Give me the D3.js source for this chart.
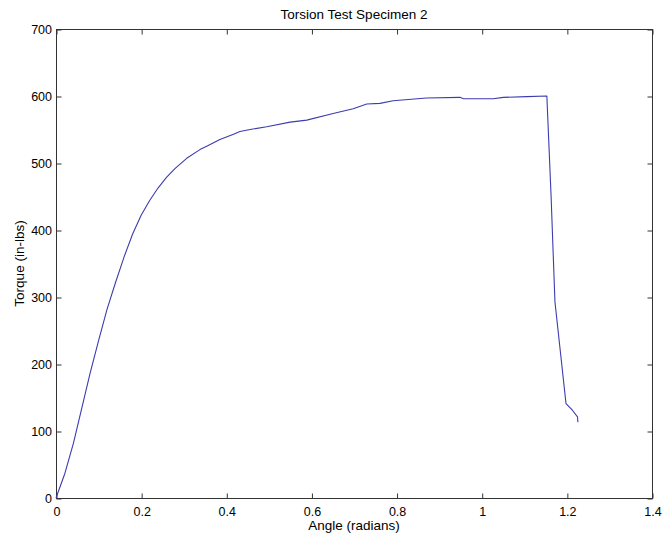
<!DOCTYPE html>
<html>
<head>
<meta charset="utf-8">
<script src="https://cdn.jsdelivr.net/npm/d3@7/dist/d3.min.js"></script>
<style>
  html, body { margin: 0; padding: 0; background: #fff; }
  svg { display: block; }
  text { font-family: "Liberation Sans", Arial, Helvetica, sans-serif; fill: #000; }
</style>
</head>
<body>
<svg id="chart" width="662" height="540"></svg>
<script>
// Data
const angle = [0, 0.021, 0.041, 0.08, 0.10, 0.12, 0.14, 0.16, 0.18, 0.20, 0.22, 0.24, 0.26, 0.28, 0.307, 0.338, 0.354, 0.385, 0.417, 0.432, 0.456, 0.495, 0.550, 0.589, 0.651, 0.698, 0.730, 0.761, 0.792, 0.870, 0.949, 0.957, 1.027, 1.051, 1.106, 1.153, 1.163, 1.172, 1.198, 1.213, 1.225, 1.226];
const torque = [0, 37, 82, 186, 235, 282, 322, 360, 394, 422, 444, 463, 479, 492, 507, 520, 525, 535, 543, 547, 550, 554, 561, 564, 574, 581, 588, 589, 593, 597, 598, 596, 596, 598, 599, 600, 450, 293, 141, 131, 121, 113];
const xTicks = [0, 0.2, 0.4, 0.6, 0.8, 1, 1.2, 1.4];
const yTicks = [0, 100, 200, 300, 400, 500, 600, 700];
const title = "Torsion Test Specimen 2";
const xLabel = "Angle (radians)";
const yLabel = "Torque (in-lbs)";

const svg = d3.select("#chart");
const L = 56, R = 652, T = 29, B = 498;
const x = d3.scaleLinear().domain([0, 1.4]).range([L, R]);
const y = d3.scaleLinear().domain([0, 700]).range([B, T]);
const axisColor = "#333";
const tickFs = "12.5px";
const labelFs = "13.5px";

// frame
svg.append("rect").attr("x", L + 0.5).attr("y", T + 0.5)
  .attr("width", R - L).attr("height", B - T)
  .attr("fill", "none").attr("stroke", axisColor).attr("stroke-width", 1);

const fmt = d => String(d);

// bottom axis
const gx = svg.append("g").attr("transform", `translate(0.5,${B + 0.5})`)
  .call(d3.axisBottom(x).tickValues(xTicks).tickFormat(fmt).tickSizeInner(-5).tickSizeOuter(0).tickPadding(8.5));
// top axis ticks
const gxt = svg.append("g").attr("transform", `translate(0.5,${T + 0.5})`)
  .call(d3.axisTop(x).tickValues(xTicks).tickFormat("").tickSizeInner(-5).tickSizeOuter(0));
// left axis
const gy = svg.append("g").attr("transform", `translate(${L + 0.5},0.5)`)
  .call(d3.axisLeft(y).tickValues(yTicks).tickSizeInner(-5).tickSizeOuter(0).tickPadding(4.5));
// right axis ticks
const gyr = svg.append("g").attr("transform", `translate(${R + 0.5},0.5)`)
  .call(d3.axisRight(y).tickValues(yTicks).tickFormat("").tickSizeInner(-5).tickSizeOuter(0));

[gx, gxt, gy, gyr].forEach(g => {
  g.select(".domain").remove();
  g.selectAll(".tick line").attr("stroke", axisColor);
  g.selectAll(".tick text").style("font-size", tickFs)
    .style("font-family", '"Liberation Sans", Arial, sans-serif').attr("fill", "#000");
});

// line
const line = d3.line().x((d, i) => x(angle[i])).y((d, i) => y(torque[i]));
svg.append("path").datum(torque)
  .attr("d", line)
  .attr("fill", "none")
  .attr("stroke", "#3c3cb0")
  .attr("stroke-width", 1.1)
  .attr("stroke-linejoin", "round");

// title & labels
svg.append("text").attr("x", (L + R) / 2).attr("y", 19)
  .attr("text-anchor", "middle").style("font-size", labelFs).text(title);
svg.append("text").attr("x", (L + R) / 2).attr("y", 530)
  .attr("text-anchor", "middle").style("font-size", labelFs).text(xLabel);
svg.append("text").attr("transform", `translate(23.5,${(T + B) / 2}) rotate(-90)`)
  .attr("text-anchor", "middle").style("font-size", labelFs).text(yLabel);
</script>
</body>
</html>
